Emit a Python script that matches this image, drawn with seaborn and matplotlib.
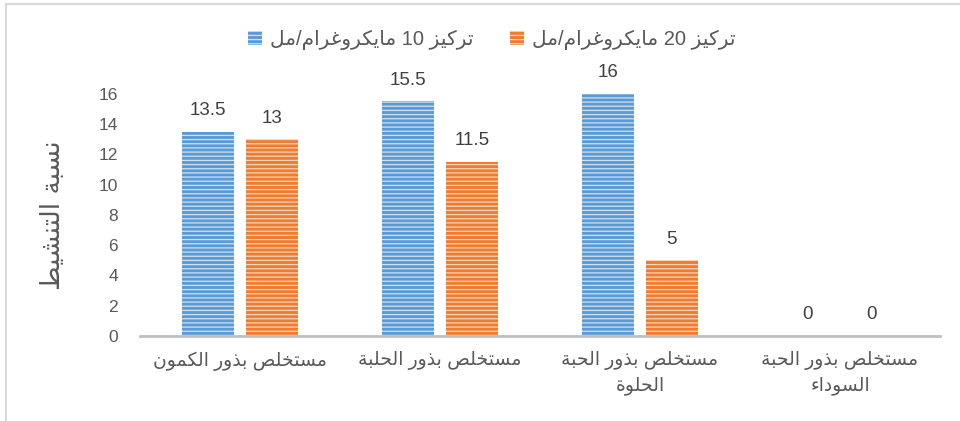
import re
import pandas as pd
import matplotlib
matplotlib.use('Agg')
import matplotlib.pyplot as plt
from matplotlib.patches import Patch, Rectangle
import seaborn as sns

# data
categories = ['مستخلص بذور الكمون', 'مستخلص بذور الحلبة',
              'مستخلص بذور الحبة\nالحلوة', 'مستخلص بذور الحبة\nالسوداء']
series_names = ['تركيز 10 مايكروغرام/مل', 'تركيز 20 مايكروغرام/مل']
conc10 = [13.5, 15.5, 16, 0]
conc20 = [13, 11.5, 5, 0]
y_label = 'نسبة التنشيط'
y_ticks = [0, 2, 4, 6, 8, 10, 12, 14, 16]

blue = '#5B9BD5'
orange = '#ED7D31'
stripe = ['#CFE2F3', '#FAD3B8']

# arabic presentation forms: isolated, final, initial, medial
FORMS = {
    'ء': (0xFE80, None, None, None),
    'ا': (0xFE8D, 0xFE8E, None, None),
    'ب': (0xFE8F, 0xFE90, 0xFE91, 0xFE92),
    'ة': (0xFE93, 0xFE94, None, None),
    'ت': (0xFE95, 0xFE96, 0xFE97, 0xFE98),
    'ح': (0xFEA1, 0xFEA2, 0xFEA3, 0xFEA4),
    'خ': (0xFEA5, 0xFEA6, 0xFEA7, 0xFEA8),
    'د': (0xFEA9, 0xFEAA, None, None),
    'ذ': (0xFEAB, 0xFEAC, None, None),
    'ر': (0xFEAD, 0xFEAE, None, None),
    'ز': (0xFEAF, 0xFEB0, None, None),
    'س': (0xFEB1, 0xFEB2, 0xFEB3, 0xFEB4),
    'ش': (0xFEB5, 0xFEB6, 0xFEB7, 0xFEB8),
    'ص': (0xFEB9, 0xFEBA, 0xFEBB, 0xFEBC),
    'ط': (0xFEC1, 0xFEC2, 0xFEC3, 0xFEC4),
    'غ': (0xFECD, 0xFECE, 0xFECF, 0xFED0),
    'ك': (0xFED9, 0xFEDA, 0xFEDB, 0xFEDC),
    'ل': (0xFEDD, 0xFEDE, 0xFEDF, 0xFEE0),
    'م': (0xFEE1, 0xFEE2, 0xFEE3, 0xFEE4),
    'ن': (0xFEE5, 0xFEE6, 0xFEE7, 0xFEE8),
    'و': (0xFEED, 0xFEEE, None, None),
    'ي': (0xFEF1, 0xFEF2, 0xFEF3, 0xFEF4),
}


def shape_line(s):
    out = []
    for i, ch in enumerate(s):
        if ch not in FORMS:
            out.append(ch)
            continue
        prev = s[i - 1] if i > 0 else ''
        nxt = s[i + 1] if i + 1 < len(s) else ''
        iso, fin, ini, med = FORMS[ch]
        jp = fin is not None and prev in FORMS and FORMS[prev][2] is not None
        jn = ini is not None and nxt in FORMS and FORMS[nxt][1] is not None
        if jp and jn:
            c = med
        elif jp:
            c = fin
        elif jn:
            c = ini
        else:
            c = iso
        out.append(chr(c))
    rev = ''.join(out)[::-1]
    # keep numbers left to right
    return re.sub(r'[0-9.]+', lambda m: m.group()[::-1], rev)


def ar(text):
    return '\n'.join(shape_line(l) for l in text.split('\n'))


cats = [ar(c) for c in categories]
names = [ar(n) for n in series_names]
df = pd.DataFrame({
    'cat': cats * 2,
    'val': conc10 + conc20,
    'series': [names[0]] * 4 + [names[1]] * 4,
})

sns.set_theme(style='white')
plt.rcParams['font.family'] = ['Liberation Sans', 'DejaVu Sans']
plt.rcParams['hatch.linewidth'] = 0.9

fig = plt.figure(figsize=(9.6, 4.21), dpi=100)
ax = fig.add_axes([0.146, 0.202, 0.833, 0.575])

sns.barplot(data=df, x='cat', y='val', hue='series', order=cats, hue_order=names,
            palette=[blue, orange], saturation=1, width=0.64, gap=0.19,
            legend=False, ax=ax)

for cont, ec in zip(ax.containers, stripe):
    for bar in cont:
        bar.set_hatch('----')
        bar.set_edgecolor(ec)
        bar.set_linewidth(0)
    ax.bar_label(cont, fmt='%g', padding=9, fontsize=13.5, color='#404040')

ax.set_ylim(0, 16)
ax.set_xlim(-0.5, 3.5)
ax.set_yticks(y_ticks)
ax.set_xlabel('')
ax.set_ylabel(ar(y_label), fontsize=19, color='#595959', family=['DejaVu Sans'])
ax.yaxis.set_label_coords(-0.093, 0.5)
ax.tick_params(axis='y', length=0, pad=16, labelsize=12.5, labelcolor='#595959')
ax.tick_params(axis='x', length=0, pad=11, labelsize=13.5, labelcolor='#595959')
for lab in ax.get_xticklabels():
    lab.set_linespacing(1.45)
for s in ['top', 'right', 'left']:
    ax.spines[s].set_visible(False)
ax.spines['bottom'].set_color('#BFBFBF')
ax.spines['bottom'].set_linewidth(2)
ax.grid(False)

handles = [Patch(facecolor=blue, edgecolor=stripe[0], hatch='----', linewidth=0),
           Patch(facecolor=orange, edgecolor=stripe[1], hatch='----', linewidth=0)]
fig.legend(handles, names, ncol=2, loc='center', bbox_to_anchor=(0.512, 0.905),
           frameon=False, fontsize=14.5, handlelength=0.7, handleheight=0.7,
           handletextpad=0.4, columnspacing=1.8, labelcolor='#595959')

# outer chart border
fig.add_artist(Rectangle((6 / 960, -0.5), 2, 1.5 - 4 / 421, transform=fig.transFigure,
                         fill=False, edgecolor='#D9D9D9', linewidth=1.5, clip_on=False))

fig.savefig('out.png', dpi=100)
